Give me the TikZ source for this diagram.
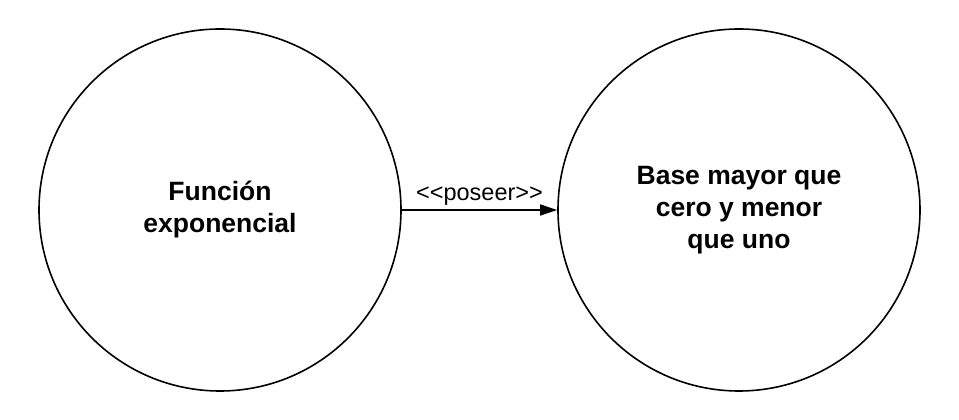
\documentclass[tikz,border=0pt]{standalone}
\usepackage{fontspec}
\setmainfont{Liberation Sans}
\usepackage{tikz}
\usetikzlibrary{positioning,arrows.meta}

\begin{document}
\begin{tikzpicture}[
    x=1pt, y=1pt,
    cnode/.style={circle, draw, line width=1.6pt, minimum size=362pt, inner sep=0pt, align=center, font=\fontsize{26.5}{32}\selectfont\bfseries},
    edge/.style={-{Triangle[length=17pt,width=11pt]}, line width=1.4pt},
    elabel/.style={font=\fontsize{23.5}{28}\selectfont}
]
    \useasboundingbox (0,0) rectangle (959,420);

    % Concept nodes
    \node[cnode] (f) at (220, 210) {Función\\exponencial};
    \node[cnode] (b) at (739, 210) {Base mayor que\\cero y menor\\que uno};

    % Relation
    \draw[edge] (f) -- node[above=1pt, elabel] {{<}{<}poseer{>}{>}} (b);
\end{tikzpicture}
\end{document}
